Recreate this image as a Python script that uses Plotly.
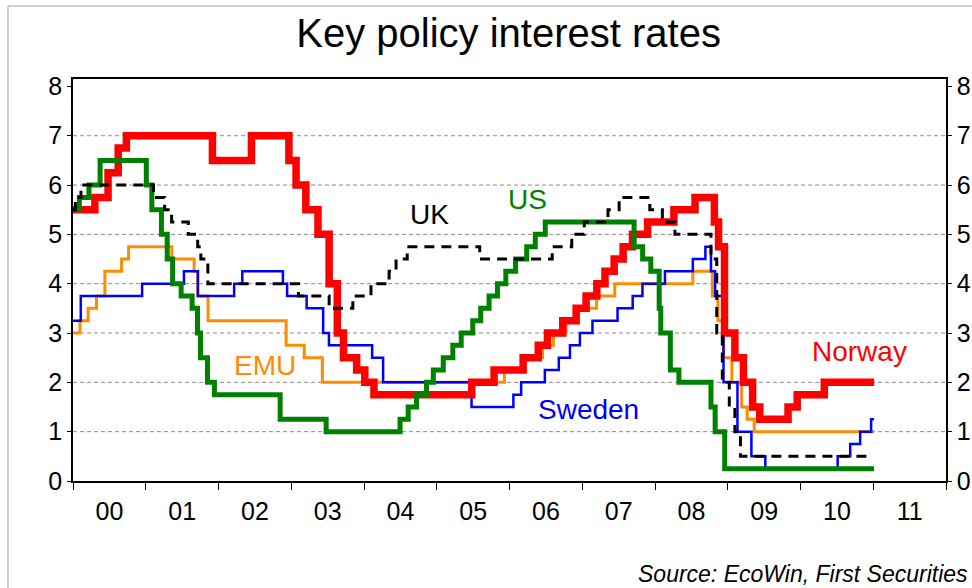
import plotly.graph_objects as go
import pandas as pd


# Policy rate change points (date the rate took effect, rate in %)
NORWAY_DATES = ['2000-01-01', '2000-04-20', '2000-06-25', '2000-08-15', '2000-09-25',
                '2001-12-01', '2002-06-15', '2002-12-20', '2003-01-25', '2003-03-15',
                '2003-05-15', '2003-07-10', '2003-08-20', '2003-09-20', '2003-11-25',
                '2004-01-05', '2004-02-20', '2005-06-25', '2005-10-15', '2006-03-10',
                '2006-05-25', '2006-07-10', '2006-09-25', '2006-12-01', '2007-01-20',
                '2007-03-15', '2007-04-25', '2007-06-10', '2007-07-25', '2007-09-10',
                '2007-11-25', '2008-04-05', '2008-07-20', '2008-10-25', '2008-11-15',
                '2008-12-15', '2009-02-05', '2009-03-20', '2009-05-05', '2009-06-10',
                '2009-10-30', '2009-12-15', '2010-04-30', '2011-01-05']
NORWAY_RATES = [5.5, 5.75, 6.25, 6.75, 7.0,
                6.5, 7.0, 6.5, 6.0, 5.5,
                5.0, 4.0, 3.0, 2.5, 2.25,
                2.0, 1.75, 2.0, 2.25, 2.5,
                2.75, 3.0, 3.25, 3.5, 3.75,
                4.0, 4.25, 4.5, 4.75, 5.0,
                5.25, 5.5, 5.75, 5.25, 4.75,
                3.0, 2.5, 2.0, 1.5, 1.25,
                1.5, 1.75, 2.0, 2.0]

US_DATES = ['2000-01-01', '2000-02-02', '2000-03-21', '2000-05-16', '2001-01-03',
            '2001-01-31', '2001-03-20', '2001-04-18', '2001-05-15', '2001-06-27',
            '2001-08-21', '2001-09-17', '2001-10-02', '2001-11-06', '2001-12-11',
            '2002-11-06', '2003-06-25', '2004-06-30', '2004-08-10', '2004-09-21',
            '2004-11-10', '2004-12-14', '2005-02-02', '2005-03-22', '2005-05-03',
            '2005-06-30', '2005-08-09', '2005-09-20', '2005-11-01', '2005-12-13',
            '2006-01-31', '2006-03-28', '2006-05-10', '2006-06-29', '2007-09-18',
            '2007-10-31', '2007-12-11', '2008-01-22', '2008-01-30', '2008-03-18',
            '2008-04-30', '2008-10-08', '2008-10-29', '2008-12-16', '2011-01-05']
US_RATES = [5.5, 5.75, 6.0, 6.5, 6.0,
            5.5, 5.0, 4.5, 4.0, 3.75,
            3.5, 3.0, 2.5, 2.0, 1.75,
            1.25, 1.0, 1.25, 1.5, 1.75,
            2.0, 2.25, 2.5, 2.75, 3.0,
            3.25, 3.5, 3.75, 4.0, 4.25,
            4.5, 4.75, 5.0, 5.25, 4.75,
            4.5, 4.25, 3.5, 3.0, 2.25,
            2.0, 1.5, 1.0, 0.25, 0.25]

EMU_DATES = ['2000-01-01', '2000-02-05', '2000-03-17', '2000-04-28', '2000-06-09',
             '2000-09-01', '2000-10-06', '2001-05-11', '2001-08-31', '2001-09-18',
             '2001-11-09', '2002-12-06', '2003-03-07', '2003-06-06', '2005-12-06',
             '2006-03-08', '2006-06-15', '2006-08-09', '2006-10-11', '2006-12-13',
             '2007-03-14', '2007-06-13', '2008-07-09', '2008-10-15', '2008-11-12',
             '2008-12-10', '2009-01-21', '2009-03-11', '2009-04-08', '2009-05-13',
             '2011-01-05']
EMU_RATES = [3.0, 3.25, 3.5, 3.75, 4.25,
             4.5, 4.75, 4.5, 4.25, 3.75,
             3.25, 2.75, 2.5, 2.0, 2.25,
             2.5, 2.75, 3.0, 3.25, 3.5,
             3.75, 4.0, 4.25, 3.75, 3.25,
             2.5, 2.0, 1.5, 1.25, 1.0,
             1.0]

SWEDEN_DATES = ['2000-01-01', '2000-02-09', '2000-12-13', '2001-07-11', '2001-09-19',
                '2002-03-20', '2002-04-30', '2002-11-20', '2002-12-11', '2003-03-19',
                '2003-06-10', '2003-07-09', '2004-02-11', '2004-04-06', '2005-06-24',
                '2006-01-20', '2006-02-28', '2006-06-27', '2006-09-05', '2006-10-31',
                '2006-12-20', '2007-02-21', '2007-06-27', '2007-09-11', '2007-10-30',
                '2008-02-20', '2008-07-09', '2008-09-10', '2008-10-08', '2008-10-29',
                '2008-12-10', '2009-02-18', '2009-04-29', '2009-07-08', '2010-07-06',
                '2010-09-07', '2010-10-27', '2010-12-21', '2011-01-05']
SWEDEN_RATES = [3.25, 3.75, 4.0, 4.25, 3.75,
                4.0, 4.25, 4.0, 3.75, 3.5,
                3.0, 2.75, 2.5, 2.0, 1.5,
                1.75, 2.0, 2.25, 2.5, 2.75,
                3.0, 3.25, 3.5, 3.75, 4.0,
                4.25, 4.5, 4.75, 4.25, 3.75,
                2.0, 1.0, 0.5, 0.25, 0.5,
                0.75, 1.0, 1.25, 1.25]

UK_DATES = ['2000-01-01', '2000-01-13', '2000-02-10', '2001-02-08', '2001-04-05',
            '2001-05-10', '2001-08-02', '2001-09-18', '2001-10-04', '2001-11-08',
            '2003-02-06', '2003-07-10', '2003-11-06', '2004-02-05', '2004-05-06',
            '2004-06-10', '2004-08-05', '2005-08-04', '2006-08-03', '2006-11-09',
            '2007-01-11', '2007-05-10', '2007-07-05', '2007-12-06', '2008-02-07',
            '2008-04-10', '2008-10-08', '2008-11-06', '2008-12-04', '2009-01-08',
            '2009-02-05', '2009-03-05', '2011-01-01']
UK_RATES = [5.5, 5.75, 6.0, 5.75, 5.5,
            5.25, 5.0, 4.75, 4.5, 4.0,
            3.75, 3.5, 3.75, 4.0, 4.25,
            4.5, 4.75, 4.5, 4.75, 5.0,
            5.25, 5.5, 5.75, 5.5, 5.25,
            5.0, 4.5, 3.0, 2.0, 1.5,
            1.0, 0.5, 0.5]

Y_TICKS = [0, 1, 2, 3, 4, 5, 6, 7, 8]
GRID_LEVELS = [1, 2, 3, 4, 5, 6, 7]

FONT = 'Arial, Liberation Sans, sans-serif'


def step_line(dates, rates, color, width, dash='solid', yaxis='y'):
    return go.Scatter(
        x = pd.to_datetime(dates),
        y = rates,
        mode = 'lines',
        line = dict(color=color, width=width, dash=dash, shape='hv'),
        yaxis = yaxis,
        hoverinfo = 'skip',
        showlegend = False
    )


fig = go.Figure()

fig.add_trace(step_line(EMU_DATES, EMU_RATES, '#FF8C00', 3))
fig.add_trace(step_line(SWEDEN_DATES, SWEDEN_RATES, '#0000FF', 2.5))
fig.add_trace(step_line(NORWAY_DATES, NORWAY_RATES, '#FF0000', 7.5))
fig.add_trace(step_line(US_DATES, US_RATES, '#008000', 5))
fig.add_trace(step_line(UK_DATES, UK_RATES, '#000000', 3, dash='10px,7px', yaxis='y2'))

for lvl in GRID_LEVELS:
    fig.add_hline(y=lvl, layer='below',
                  line=dict(color='#8c8c8c', width=1, dash='4px,3px'))

axis_font = dict(family=FONT, size=25, color='black')

common_y = dict(
    range = [0, 8.15],
    tickvals = Y_TICKS,
    ticks = 'outside',
    ticklen = 4,
    tickcolor = 'black',
    showline = True,
    linecolor = 'black',
    linewidth = 1.5,
    showgrid = False,
    zeroline = False,
    automargin = False,
    tickfont = axis_font
)

fig.update_layout(
    width = 972,
    height = 588,
    margin = dict(l=73, r=26, t=79, b=107, autoexpand=False),
    paper_bgcolor = 'white',
    plot_bgcolor = 'white',
    font = dict(family=FONT, color='black'),
    showlegend = False,
    hovermode = False,
    title = dict(
        text = 'Key policy interest rates',
        font = dict(family=FONT, size=40, color='black'),
        xref = 'paper', x = 0.499, xanchor = 'center',
        yref = 'container', y = 0.944, yanchor = 'middle'
    ),
    xaxis = dict(
        type = 'date',
        range = ['2000-01-01', '2012-01-01'],
        tick0 = '2000-01-01',
        dtick = 'M12',
        tickformat = '%y',
        ticklabelmode = 'period',
        ticks = 'outside',
        ticklen = 7,
        tickcolor = 'black',
        showline = True,
        linecolor = 'black',
        linewidth = 1.5,
        mirror = True,
        showgrid = False,
        zeroline = False,
        automargin = False,
        tickfont = axis_font
    ),
    yaxis = common_y,
    yaxis2 = dict(common_y, overlaying='y', side='right')
)

# series labels
labels = [
    ('Norway', '#FF0000', 0.901, 0.322),
    ('Sweden', '#0000FF', 0.591, 0.178),
    ('UK', '#000000', 0.408, 0.663),
    ('US', '#008000', 0.521, 0.700),
    ('EMU', '#FF8C00', 0.220, 0.288),
]
for txt, cor, x, y in labels:
    fig.add_annotation(
        text = txt, x = x, y = y, xref = 'paper', yref = 'paper',
        xanchor = 'center', yanchor = 'middle', showarrow = False,
        font = dict(family=FONT, size=28, color=cor)
    )

fig.add_annotation(
    text = '<i>Source: EcoWin, First Securities</i>',
    x = 1.028, y = -0.232, xref = 'paper', yref = 'paper',
    xanchor = 'right', yanchor = 'middle', showarrow = False,
    font = dict(family=FONT, size=23, color='black')
)

# light frame around the whole figure
fig.add_shape(type='line', xref='paper', yref='paper',
              x0=-0.0745, x1=1.2, y0=1.1816, y1=1.1816,
              line=dict(color='#c0c0c0', width=1.5))
fig.add_shape(type='line', xref='paper', yref='paper',
              x0=-0.0745, x1=-0.0745, y0=-0.5, y1=1.1816,
              line=dict(color='#c0c0c0', width=1.5))

# drop the default page margin so the figure fills the window without scrollbars
fig.write_html('out.html',
               config={'displayModeBar': False},
               post_script="document.body.style.margin='0';"
                           "document.body.style.overflow='hidden';")
